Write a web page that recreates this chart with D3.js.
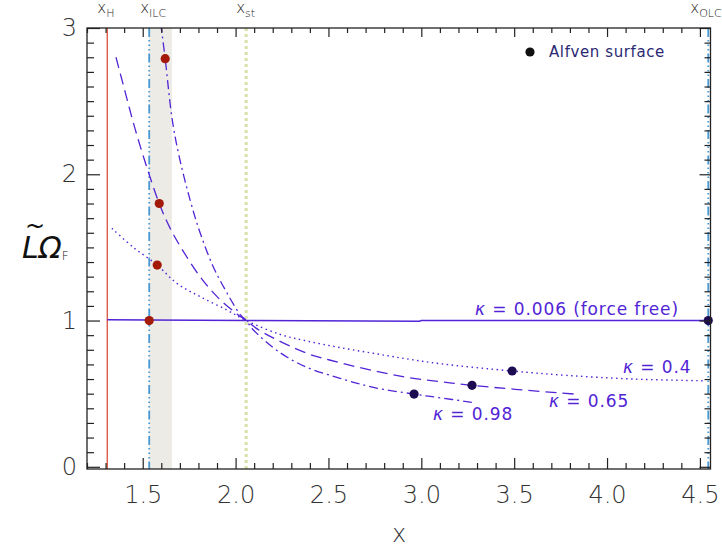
<!DOCTYPE html>
<html>
<head>
<meta charset="utf-8">
<script src="https://cdn.jsdelivr.net/npm/d3@7"></script>
<style>
  html, body { margin: 0; padding: 0; background: #fff; }
  svg { display: block; }
  text { font-family: "DejaVu Sans", sans-serif; }
</style>
</head>
<body>
<svg id="chart" width="722" height="548"></svg>
<script>
// Angular momentum L~ Omega_F along the field line for several kappa values
const xMajorTicks = [1.5, 2.0, 2.5, 3.0, 3.5, 4.0, 4.5];
const yMajorTicks = [0, 1, 2, 3];

// characteristic radii: horizon, inner/outer light cylinders, stagnation point
const markerNames = ["H", "ILC", "st", "OLC"];
const markerX = [1.309, 1.535, 2.057, 4.545];
const ilcBand = [1.535, 1.657];

const kappa006 = [[1.309, 1.006], [1.535, 1.003], [2.057, 1.0], [2.99, 0.995], [3.0, 1.0], [4.545, 1.0]];
const kappa04 = [[1.334, 1.63], [1.45, 1.50], [1.578, 1.379], [1.684, 1.254], [1.809, 1.163], [1.953, 1.072],
  [2.057, 1.0], [2.24, 0.905], [2.384, 0.860], [2.563, 0.815], [2.742, 0.776], [2.922, 0.738], [3.101, 0.705],
  [3.489, 0.655], [3.783, 0.625], [4.14, 0.600], [4.527, 0.588]];
const kappa065 = [[1.356, 2.80], [1.406, 2.56], [1.45, 2.35], [1.504, 2.12], [1.589, 1.80], [1.648, 1.63],
  [1.72, 1.47], [1.809, 1.30], [1.899, 1.165], [2.007, 1.045], [2.057, 1.0], [2.132, 0.93], [2.384, 0.776],
  [2.563, 0.712], [2.742, 0.657], [2.922, 0.612], [3.101, 0.582], [3.273, 0.557], [3.505, 0.530], [3.837, 0.496]];
const kappa098 = [[1.597, 3.03], [1.621, 2.79], [1.657, 2.39], [1.693, 2.14], [1.756, 1.82], [1.809, 1.60],
  [1.879, 1.37], [1.953, 1.19], [2.025, 1.04], [2.057, 1.0], [2.096, 0.935], [2.24, 0.78], [2.384, 0.68],
  [2.563, 0.605], [2.742, 0.543], [2.961, 0.497], [3.083, 0.475], [3.272, 0.441]];

// points where each field line meets the inner light cylinder region / Alfven surface
const redPoints = [[1.535, 1.0], [1.578, 1.379], [1.589, 1.80], [1.621, 2.79]];
const alfvenPoints = [[4.545, 1.0], [3.489, 0.655], [3.273, 0.557], [2.961, 0.497]];

const curveLabels = ["0.006 (force free)", "0.4", "0.65", "0.98"];

const svg = d3.select("#chart");
const pL = 87, pR = 710.5, pT = 28, pB = 469;

const x = d3.scaleLinear().domain([1.2, 4.557]).range([pL, pR]);
const y = d3.scaleLinear().domain([-0.015, 3]).range([pB, pT]);

const purple = "#5224d6";

svg.append("defs").append("clipPath").attr("id", "plot")
  .append("rect").attr("x", pL).attr("y", pT).attr("width", pR - pL).attr("height", pB - pT);

// shaded band next to the inner light cylinder
svg.append("rect")
  .attr("x", x(ilcBand[0])).attr("y", pT)
  .attr("width", x(ilcBand[1]) - x(ilcBand[0])).attr("height", pB - pT)
  .attr("fill", "#ecebe6");

// vertical marker lines
const markerStyle = [
  { stroke: "#d8402a", width: 1.2, dash: null },
  { stroke: "#4a98d2", width: 1.8, dash: "9,3,1.5,3,1.5,3,1.5,3" },
  { stroke: "#d6e2a6", width: 3, dash: "3,3" },
  { stroke: "#4a98d2", width: 1.8, dash: "9,3,1.5,3,1.5,3,1.5,3" }
];
markerX.forEach((mx, i) => {
  const s = markerStyle[i];
  svg.append("line")
    .attr("x1", x(mx)).attr("x2", x(mx)).attr("y1", pT).attr("y2", pB)
    .attr("stroke", s.stroke).attr("stroke-width", s.width)
    .attr("stroke-dasharray", s.dash);
});

// marker names above the frame
const labelOffset = [-10, -9, -10, -18];
markerNames.forEach((n, i) => {
  const t = svg.append("text")
    .attr("x", x(markerX[i]) + labelOffset[i]).attr("y", 13)
    .attr("font-size", 15).attr("font-weight", 300).attr("fill", "#222");
  t.append("tspan").text("x");
  t.append("tspan").attr("font-size", 11).attr("dy", 4).text(n);
});

// curves
const smooth = d3.line().x(d => x(d[0])).y(d => y(d[1])).curve(d3.curveCatmullRom.alpha(0.5));
const straight = d3.line().x(d => x(d[0])).y(d => y(d[1]));
const g = svg.append("g").attr("clip-path", "url(#plot)");
const curves = [
  { data: kappa006, dash: null, width: 1.5, gen: straight },
  { data: kappa04, dash: "1.5,3.5", width: 1.4, gen: smooth },
  { data: kappa065, dash: "11,6", width: 1.3, gen: smooth },
  { data: kappa098, dash: "9,4,2,4", width: 1.3, gen: smooth }
];
curves.forEach(c => {
  g.append("path").attr("d", c.gen(c.data))
    .attr("fill", "none").attr("stroke", purple)
    .attr("stroke-width", c.width).attr("stroke-dasharray", c.dash);
});

// markers
svg.selectAll(".red").data(redPoints).join("circle")
  .attr("cx", d => x(d[0])).attr("cy", d => y(d[1])).attr("r", 4.6).attr("fill", "#a31a08");
svg.selectAll(".alf").data(alfvenPoints).join("circle")
  .attr("cx", d => x(d[0])).attr("cy", d => y(d[1])).attr("r", 4.6).attr("fill", "#1d0b52");

// kappa labels
const labelPos = [[475, 315], [623, 373], [549, 407], [433, 420]];
curveLabels.forEach((s, i) => {
  const t = svg.append("text")
    .attr("x", labelPos[i][0]).attr("y", labelPos[i][1])
    .attr("font-size", 17).attr("fill", purple).attr("letter-spacing", 0.9)
    .attr("xml:space", "preserve");
  t.append("tspan").attr("font-style", "italic").text("κ");
  t.append("tspan").text(" = " + s);
});

// legend
svg.append("circle").attr("cx", 530).attr("cy", 52).attr("r", 4.6).attr("fill", "#111");
svg.append("text").attr("x", 549).attr("y", 57).attr("font-size", 15)
  .attr("fill", "#2a2a72").attr("letter-spacing", 0.6).text("Alfven surface");

// axes: ticks drawn inward on all four sides
const xMinor = d3.range(12, 46).map(v => v / 10).filter(v => !xMajorTicks.some(m => Math.abs(m - v) < 1e-6));
const yMinor = d3.range(0, 31).map(v => v / 10).filter(v => !yMajorTicks.some(m => Math.abs(m - v) < 1e-6));

function styleAxis(sel) {
  sel.select(".domain").remove();
  sel.selectAll("line").attr("stroke", "#222").attr("stroke-width", 1.2);
  sel.selectAll("text").attr("font-size", 24).attr("font-weight", 200).attr("fill", "#333")
    .attr("font-family", "DejaVu Sans, sans-serif");
}

svg.append("g").attr("transform", `translate(0,${pB})`)
  .call(d3.axisBottom(x).tickValues(xMajorTicks).tickSizeInner(-11).tickSizeOuter(0).tickPadding(17).tickFormat(d3.format(".1f")))
  .call(styleAxis);
svg.append("g").attr("transform", `translate(0,${pB})`)
  .call(d3.axisBottom(x).tickValues(xMinor).tickSizeInner(-6).tickSizeOuter(0).tickFormat(""))
  .call(styleAxis);
svg.append("g").attr("transform", `translate(0,${pT})`)
  .call(d3.axisTop(x).tickValues(xMajorTicks).tickSizeInner(-9).tickSizeOuter(0).tickFormat(""))
  .call(styleAxis);
svg.append("g").attr("transform", `translate(0,${pT})`)
  .call(d3.axisTop(x).tickValues(xMinor).tickSizeInner(-5).tickSizeOuter(0).tickFormat(""))
  .call(styleAxis);

svg.append("g").attr("transform", `translate(${pL},0)`)
  .call(d3.axisLeft(y).tickValues(yMajorTicks).tickSizeInner(-13).tickSizeOuter(0).tickPadding(10).tickFormat(d3.format("d")))
  .call(styleAxis);
svg.append("g").attr("transform", `translate(${pL},0)`)
  .call(d3.axisLeft(y).tickValues(yMinor).tickSizeInner(-7).tickSizeOuter(0).tickFormat(""))
  .call(styleAxis);
svg.append("g").attr("transform", `translate(${pR},0)`)
  .call(d3.axisRight(y).tickValues(yMajorTicks).tickSizeInner(-11).tickSizeOuter(0).tickFormat(""))
  .call(styleAxis);
svg.append("g").attr("transform", `translate(${pR},0)`)
  .call(d3.axisRight(y).tickValues(yMinor).tickSizeInner(-6).tickSizeOuter(0).tickFormat(""))
  .call(styleAxis);

// frame
svg.append("rect").attr("x", pL).attr("y", pT).attr("width", pR - pL).attr("height", pB - pT)
  .attr("fill", "none").attr("stroke", "#222").attr("stroke-width", 1.3);

// axis titles
svg.append("text").attr("x", 399).attr("y", 542).attr("text-anchor", "middle")
  .attr("font-size", 24).attr("font-weight", 200).attr("fill", "#333").text("x");

const yl = svg.append("g").attr("transform", "translate(22,258)");
yl.append("text").attr("x", 3).attr("y", -24).attr("font-family", "Liberation Serif, serif")
  .attr("font-size", 24).attr("fill", "#111").text("~");
const ylt = yl.append("text").attr("font-family", "Liberation Serif, serif").attr("font-size", 30).attr("fill", "#111");
ylt.append("tspan").attr("font-style", "italic").text("L");
ylt.append("tspan").attr("font-style", "italic").text("Ω");
ylt.append("tspan").attr("font-family", "DejaVu Sans, sans-serif").attr("font-size", 12).attr("font-weight", 300)
  .attr("dy", 2).text("F");
</script>
</body>
</html>
